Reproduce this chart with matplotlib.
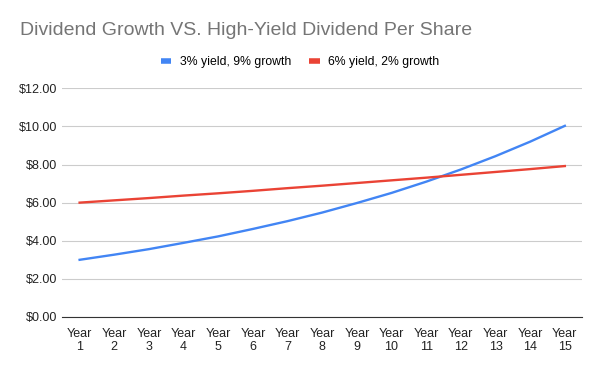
import numpy as np
import matplotlib.pyplot as plt
from matplotlib.ticker import FuncFormatter

plt.rcParams['font.family'] = ['Liberation Sans', 'DejaVu Sans']

years = ['Year\n%d' % i for i in range(1, 16)]
growth = [3.00, 3.27, 3.56, 3.89, 4.23, 4.62, 5.03, 5.48, 5.98, 6.51,
          7.10, 7.74, 8.44, 9.20, 10.03]
high_yield = [6.00, 6.12, 6.24, 6.37, 6.49, 6.62, 6.76, 6.89, 7.03, 7.17,
              7.31, 7.46, 7.61, 7.76, 7.92]

fig = plt.figure(figsize=(6, 3.71), dpi=100)
ax = fig.add_axes([0.103, 0.1456, 0.8667, 0.6164])

x = np.arange(1, 16)
ax.plot(x, growth, color='#4285F4', lw=1.7, label='3% yield, 9% growth')
ax.plot(x, high_yield, color='#EA4335', lw=1.7, label='6% yield, 2% growth')

ax.set_xlim(0.486, 15.49)
ax.set_ylim(0, 12)
ax.set_yticks(np.arange(0, 13, 2))
ax.yaxis.set_major_formatter(FuncFormatter(lambda v, p: '$%.2f' % v))
ax.set_xticks(x)
ax.set_xticklabels(years, linespacing=1.05)
ax.tick_params(length=0, labelsize=9, colors='#222222')
ax.tick_params(axis='x', pad=8)
ax.tick_params(axis='y', pad=3)
ax.grid(axis='y', color='#cccccc', lw=0.8)
ax.set_axisbelow(True)
for s in ['top', 'right', 'left']:
    ax.spines[s].set_visible(False)
ax.spines['bottom'].set_color('#333333')
ax.spines['bottom'].set_zorder(3)

fig.text(0.033, 1 - 30.5 / 371, 'Dividend Growth VS. High-Yield Dividend Per Share',
         fontsize=14, color='#757575', va='center')
leg = fig.legend(loc='center', bbox_to_anchor=(0.5, 1 - 62.5 / 371), ncol=2, frameon=False,
                 fontsize=8.8, handlelength=0.85, handletextpad=0.7, columnspacing=1.5)
for l in leg.get_lines():
    l.set_linewidth(4)
    l.set_solid_capstyle('butt')

fig.savefig('out.png', dpi=100)
